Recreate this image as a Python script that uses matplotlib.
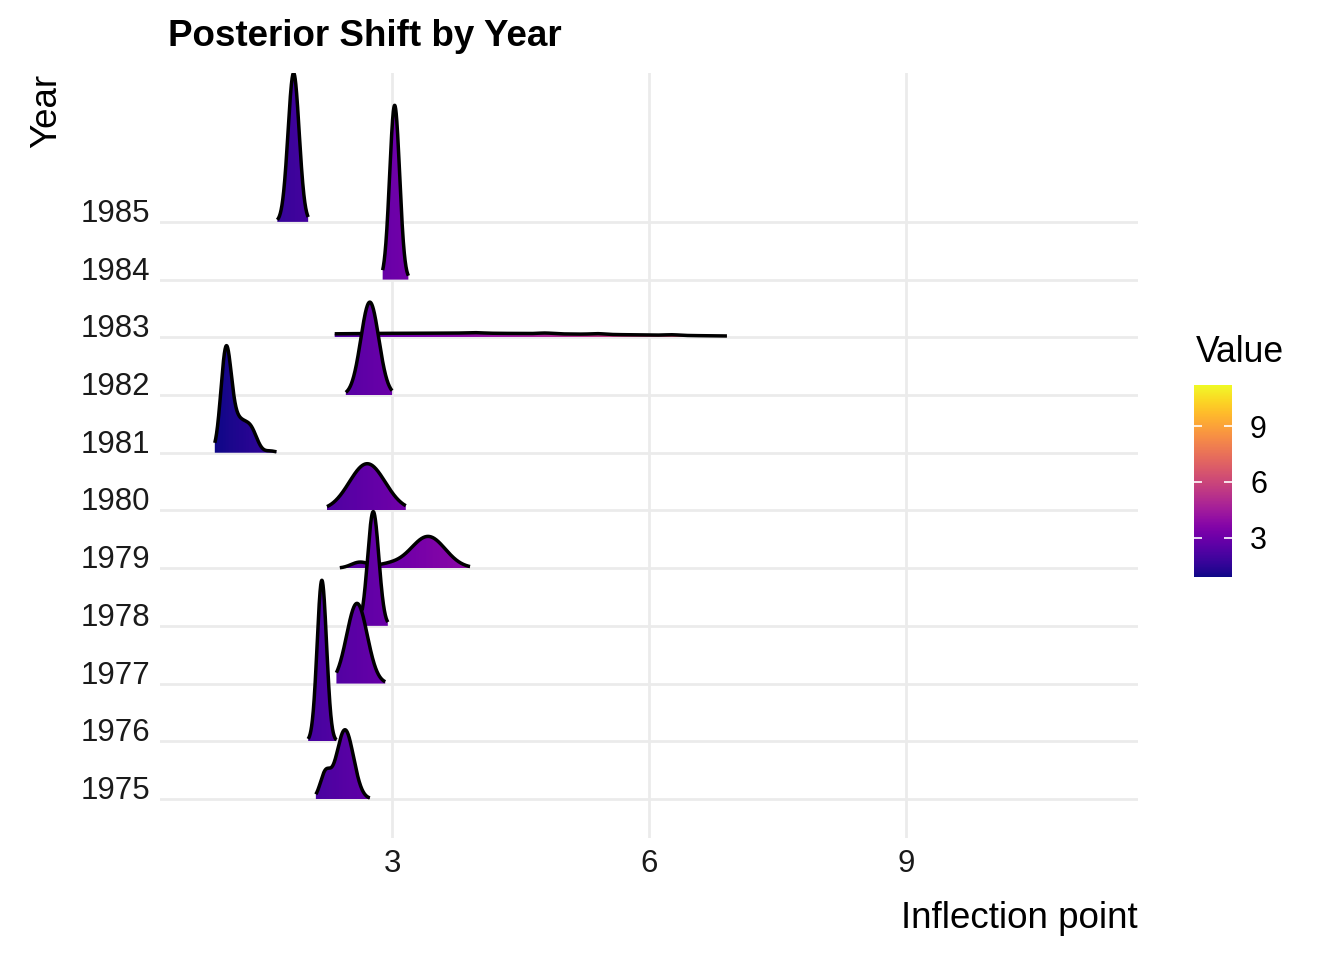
import numpy as np
import matplotlib.pyplot as plt
from matplotlib.patches import Polygon
from matplotlib import cm, colors

plt.rcParams['font.family'] = ['Liberation Sans', 'DejaVu Sans']

# one ridge per year
years = [1975, 1976, 1977, 1978, 1979, 1980, 1981, 1982, 1983, 1984, 1985]
x_lo = [2.11, 2.02, 2.35, 2.65, 2.39, 2.24, 0.93, 2.46, 2.33, 2.89, 1.66]
x_hi = [2.74, 2.35, 2.92, 2.95, 3.91, 3.16, 1.65, 3.00, 6.91, 3.19, 2.02]
# bumps of each ridge: (centre, spread, height in row units)
bumps = [
    [(2.45, 0.10, 1.20), (2.22, 0.06, 0.42)],
    [(2.18, 0.055, 2.79)],
    [(2.59, 0.12, 1.39)],
    [(2.78, 0.065, 1.98)],
    [(3.42, 0.20, 0.55), (2.62, 0.10, 0.10), (2.95, 0.15, 0.06)],
    [(2.71, 0.21, 0.81)],
    [(1.06, 0.06, 1.64), (1.20, 0.10, 0.55), (1.36, 0.07, 0.30), (1.58, 0.06, 0.03)],
    [(2.74, 0.105, 1.61)],
    [(3.60, 2.20, 0.072), (3.95, 0.10, 0.010), (4.79, 0.08, 0.012),
     (5.40, 0.08, 0.012), (6.27, 0.08, 0.010)],
    [(3.03, 0.058, 3.02)],
    [(1.85, 0.065, 2.58)],
]
value_min, value_max = 0.88, 11.21

W, H = 1344, 960
fig = plt.figure(figsize=(W / 100, H / 100), dpi=100)
ax = fig.add_axes([160 / W, 1 - 838 / H, (1138 - 160) / W, (838 - 73) / H])

norm = colors.Normalize(value_min, value_max)
cmap = plt.get_cmap('plasma')
grad = np.linspace(value_min, value_max, 600).reshape(1, -1)

for i in reversed(range(len(years))):
    xs = np.linspace(x_lo[i], x_hi[i], 500)
    ys = np.zeros_like(xs)
    for c, s, h in bumps[i]:
        ys += h * np.exp(-0.5 * ((xs - c) / s) ** 2)
    z = 10 + 2 * (len(years) - i)
    verts = np.column_stack([np.r_[xs, xs[::-1]], np.r_[i + ys, np.full_like(xs, i)]])
    poly = Polygon(verts, closed=True, facecolor='none', edgecolor='none')
    ax.add_patch(poly)
    im = ax.imshow(grad, extent=[value_min, value_max, i, i + ys.max()], cmap=cmap,
                   norm=norm, aspect='auto', origin='lower', zorder=z)
    im.set_clip_path(poly)
    ax.plot(xs, i + ys, color='black', lw=2.5, zorder=z + 1, solid_capstyle='butt')

ax.set_xlim(0.29, 11.71)
ax.set_ylim(-0.676, 12.58)
ax.set_xticks([3, 6, 9])
ax.set_yticks(range(len(years)))
ax.set_yticklabels([str(y) for y in years], va='baseline')
ax.set_axisbelow(True)
ax.grid(color='#EBEBEB', lw=2)
for s in ax.spines.values():
    s.set_visible(False)
ax.tick_params(length=0, labelsize=22.5, colors='#1a1a1a')
ax.tick_params(axis='x', pad=8)
ax.tick_params(axis='y', pad=7)

fig.text(168 / W, 1 - 46 / H, 'Posterior Shift by Year', fontsize=26.5,
         fontweight='bold', va='baseline', ha='left')
fig.text(1138 / W, 1 - 928 / H, 'Inflection point', fontsize=26.5, va='baseline', ha='right')
fig.text(47 / W, 1 - 74 / H, 'Year', fontsize=26.5, rotation=90, va='top', ha='center')

cax = fig.add_axes([1194 / W, 1 - 577 / H, 38 / W, 192 / H])
cb = fig.colorbar(cm.ScalarMappable(norm=norm, cmap=cmap), cax=cax, ticks=[3, 6, 9])
cb.outline.set_visible(False)
cb.minorticks_off()
cax.yaxis.set_ticks_position('both')
cax.tick_params(direction='in', color='white', length=5.5, width=1.2,
                labelsize=22, labelleft=False, labelright=True, pad=13)
fig.text(1196 / W, 1 - 362 / H, 'Value', fontsize=25.6, va='baseline', ha='left')

fig.savefig('out.png', dpi=100, facecolor='white')
